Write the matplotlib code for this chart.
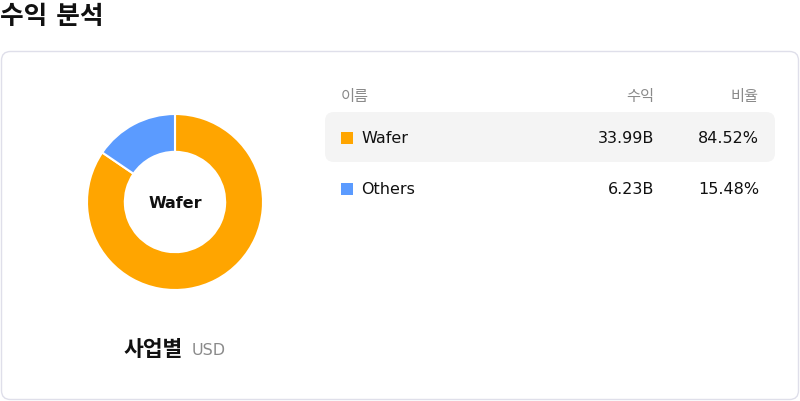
import matplotlib.pyplot as plt
from matplotlib.patches import FancyBboxPatch, Rectangle

plt.rcParams['font.family'] = ['DejaVu Sans', 'Noto Sans CJK KR']

# data
names = ['Wafer', 'Others']
revenue = [33.99, 6.23]
ratio = [84.52, 15.48]
colors = ['#FFA500', '#5B9BFF']
title = '수익 분석'
headers = ['이름', '수익', '비율']

W, H = 800, 402
fig = plt.figure(figsize=(W / 100, H / 100), dpi=100)

# background axes in pixel coordinates
bg = fig.add_axes([0, 0, 1, 1])
bg.set_xlim(0, W)
bg.set_ylim(H, 0)
bg.axis('off')

bg.text(0, 16.5, title, fontsize=18.5, fontweight='bold', va='center', ha='left', color='#111111')

card = FancyBboxPatch((1.5, 52.5), 797, 348, boxstyle='round,pad=0,rounding_size=9',
                      facecolor='white', edgecolor='#dfdfea', linewidth=1)
bg.add_patch(card)

# table
gray = '#8a8a8a'
bg.text(341, 96, headers[0], fontsize=11, color=gray, va='center', ha='left')
bg.text(654, 96, headers[1], fontsize=11, color=gray, va='center', ha='right')
bg.text(759, 96, headers[2], fontsize=11, color=gray, va='center', ha='right')

hl = FancyBboxPatch((325, 113), 450, 50, boxstyle='round,pad=0,rounding_size=9',
                    facecolor='#f4f4f4', edgecolor='none')
bg.add_patch(hl)

row_y = [138.5, 189.5]
for i, name in enumerate(names):
    y = row_y[i]
    bg.add_patch(Rectangle((341, y - 6), 12, 12, facecolor=colors[i], edgecolor='none'))
    bg.text(361, y, name, fontsize=11.5, color='#111111', va='center', ha='left')
    bg.text(654, y, f'{revenue[i]:.2f}B', fontsize=11.5, color='#111111', va='center', ha='right')
    bg.text(759, y, f'{ratio[i]:.2f}%', fontsize=11.5, color='#111111', va='center', ha='right')

# bottom caption
bg.text(183, 350, '사업별', fontsize=15.5, fontweight='bold', color='#111111', va='center', ha='right')
bg.text(192, 350.5, 'USD', fontsize=11.5, color=gray, va='center', ha='left')

# donut
cx, cy, r = 175, 203, 88
pax = fig.add_axes([(cx - r) / W, (H - cy - r) / H, 2 * r / W, 2 * r / H])
pax.pie(revenue, colors=colors, startangle=90, counterclock=False, radius=1,
        wedgeprops=dict(width=0.43, edgecolor='white', linewidth=1.5))
pax.set_xlim(-1, 1)
pax.set_ylim(-1, 1)
pax.set_aspect('equal')
pax.axis('off')
pax.text(0, 0, names[0], fontsize=11.5, fontweight='bold', ha='center', va='center', color='#111111')

fig.savefig('out.png', dpi=100)
